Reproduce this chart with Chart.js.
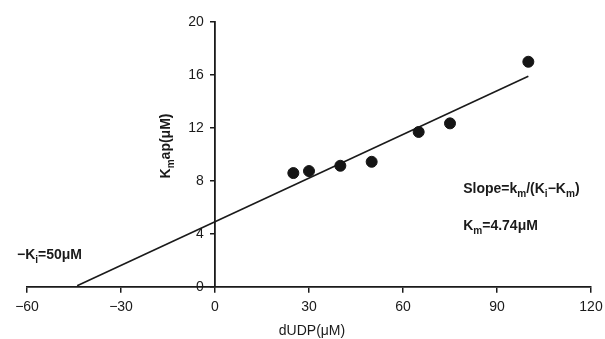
<!DOCTYPE html>
<html>
<head>
<meta charset="utf-8">
<script src="https://cdn.jsdelivr.net/npm/chart.js@4"></script>
<style>
  html, body { margin: 0; padding: 0; background: #fff; }
  #wrap { width: 605px; height: 339px; }
</style>
</head>
<body>
<div id="wrap"><canvas id="chart" width="605" height="339"></canvas></div>
<script>
// data
var xTicks = [-60, -30, 0, 30, 60, 90, 120];
var yTicks = [0, 4, 8, 12, 16, 20];
var dUDP = [25, 30, 40, 50, 65, 75, 100];
var kmApp = [8.6, 8.75, 9.15, 9.45, 11.7, 12.35, 17.0];
var fitX = [-44, 100];
var fitY = [0.1, 15.9];

// text bits, [text, isSubscript]
var yTitle = [['K', 0], ['m', 1], ['ap(\u03bcM)', 0]];
var xTitle = [['dUDP(\u03bcM)', 0]];
var slopeText = [['Slope=k', 0], ['m', 1], ['/(K', 0], ['i', 1], ['\u2212K', 0], ['m', 1], [')', 0]];
var kmText = [['K', 0], ['m', 1], ['=4.74\u03bcM', 0]];
var kiText = [['\u2212K', 0], ['i', 1], ['=50\u03bcM', 0]];

var FONT = '"Liberation Sans", Arial, sans-serif';

function richWidth(ctx, parts, size, weight) {
    var w = 0;
    parts.forEach(function (p) {
        ctx.font = weight + ' ' + (p[1] ? size * 0.72 : size) + 'px ' + FONT;
        w += ctx.measureText(p[0]).width;
    });
    return w;
}

function drawRich(ctx, parts, x, y, size, weight) {
    var cx = x;
    parts.forEach(function (p) {
        var fs = p[1] ? size * 0.72 : size;
        ctx.font = weight + ' ' + fs + 'px ' + FONT;
        ctx.fillText(p[0], cx, p[1] ? y + size * 0.28 : y);
        cx += ctx.measureText(p[0]).width;
    });
}

// keep label overflow from squeezing the plot area
function noPad(s) {
    s.paddingLeft = 0; s.paddingRight = 0; s.paddingTop = 0; s.paddingBottom = 0;
}

var textPlugin = {
    id: 'textPlugin',
    afterDraw: function (chart) {
        var ctx = chart.ctx;
        var xs = chart.scales.x, ys = chart.scales.y;
        ctx.save();
        ctx.fillStyle = '#1a1a1a';
        ctx.textBaseline = 'alphabetic';
        ctx.textAlign = 'left';

        // annotations, anchored in data units
        drawRich(ctx, slopeText, xs.getPixelForValue(79.2), ys.getPixelForValue(7.1), 14, 'bold');
        drawRich(ctx, kmText, xs.getPixelForValue(79.2), ys.getPixelForValue(4.3), 14, 'bold');
        drawRich(ctx, kiText, xs.getPixelForValue(-63.2), ys.getPixelForValue(2.1), 14, 'bold');

        // x title
        var w = richWidth(ctx, xTitle, 14, 'normal');
        drawRich(ctx, xTitle, 312 - w / 2, 335, 14, 'normal');

        // y title, rotated
        ctx.translate(170, 146);
        ctx.rotate(-Math.PI / 2);
        w = richWidth(ctx, yTitle, 14, 'bold');
        drawRich(ctx, yTitle, -w / 2, 0, 14, 'bold');
        ctx.restore();
    }
};

var points = dUDP.map(function (x, i) { return { x: x, y: kmApp[i] }; });
var fit = fitX.map(function (x, i) { return { x: x, y: fitY[i] }; });

var chart = new Chart(document.getElementById('chart'), {
    type: 'scatter',
    data: {
        datasets: [{
            label: 'Kmap',
            data: points,
            backgroundColor: '#151515',
            borderColor: '#151515',
            pointRadius: 5.5,
            pointHoverRadius: 5.5
        }, {
            label: 'fit',
            data: fit,
            showLine: true,
            pointRadius: 0,
            borderColor: '#1a1a1a',
            borderWidth: 1.6,
            fill: false
        }]
    },
    options: {
        responsive: false,
        animation: false,
        events: [],
        layout: { padding: { left: 27, right: 14, top: 22, bottom: 52 } },
        plugins: {
            legend: { display: false },
            tooltip: { enabled: false }
        },
        scales: {
            x: {
                type: 'linear',
                min: -60, max: 120,
                position: { y: 0 },
                afterBuildTicks: function (s) { s.ticks = xTicks.map(function (v) { return { value: v }; }); },
                afterFit: noPad,
                ticks: {
                    color: '#1a1a1a',
                    font: { family: FONT, size: 14 },
                    padding: 7,
                    callback: function (v) { return String(v).replace('-', '\u2212'); }
                },
                grid: { display: true, drawOnChartArea: false, drawTicks: true, tickLength: 5, color: '#1a1a1a', lineWidth: 1.5 },
                border: { display: true, color: '#1a1a1a', width: 1.8 }
            },
            y: {
                type: 'linear',
                min: 0, max: 20,
                position: { x: 0 },
                afterBuildTicks: function (s) { s.ticks = yTicks.map(function (v) { return { value: v }; }); },
                afterFit: noPad,
                ticks: { display: false },
                grid: { display: true, drawOnChartArea: false, drawTicks: true, tickLength: 4, color: '#1a1a1a', lineWidth: 1.5 },
                border: { display: true, color: '#1a1a1a', width: 1.8 }
            },
            // labels only, set a little left of the y axis line
            yLabels: {
                type: 'linear',
                axis: 'y',
                min: 0, max: 20,
                position: { x: -3.6 },
                afterBuildTicks: function (s) { s.ticks = yTicks.map(function (v) { return { value: v }; }); },
                afterFit: noPad,
                ticks: {
                    color: '#1a1a1a',
                    font: { family: FONT, size: 14 }
                },
                grid: { display: false },
                border: { display: false }
            }
        }
    },
    plugins: [textPlugin]
});
</script>
</body>
</html>
